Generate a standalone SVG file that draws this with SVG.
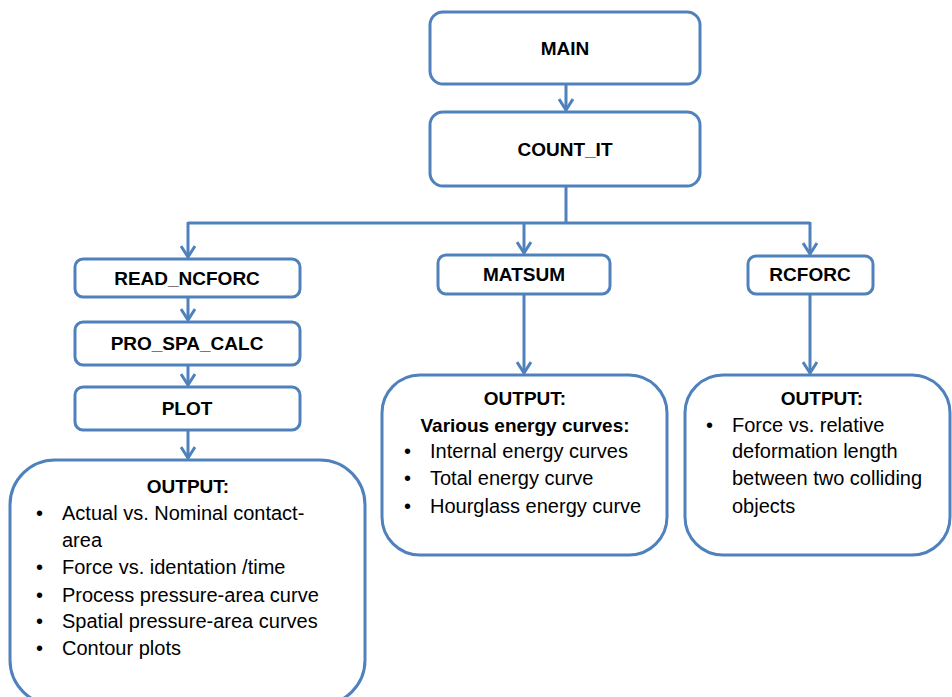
<svg xmlns="http://www.w3.org/2000/svg" width="952" height="697" viewBox="0 0 952 697">
<style>
.box{fill:#fff;stroke:#4F81BD;stroke-width:3}
.lbl{font-family:"Liberation Sans",Arial,sans-serif;font-weight:bold;font-size:19px;fill:#000;text-anchor:middle}
.txt{font-family:"Liberation Sans",Arial,sans-serif;font-size:20px;fill:#000}
.con{fill:none;stroke:#4F81BD;stroke-width:3}
.arw{marker-end:url(#arr)}
</style>
<defs>
<marker id="arr" markerUnits="userSpaceOnUse" markerWidth="16" markerHeight="16" refX="13" refY="8" orient="auto" viewBox="0 0 16 16">
<path d="M2,1 L13,8 L2,15" fill="none" stroke="#4F81BD" stroke-width="3"/>
</marker>
</defs>
<g id="connectors">
<path class="con arw" d="M566,84 V110"/>
<path class="con" d="M566,186 V223"/>
<path class="con" d="M188,223 H810"/>
<path class="con arw" d="M188,222 V257"/>
<path class="con arw" d="M524,222 V253"/>
<path class="con arw" d="M810,222 V254"/>
<path class="con arw" d="M188,297 V320"/>
<path class="con arw" d="M188,365 V385"/>
<path class="con arw" d="M188,430 V458"/>
<path class="con arw" d="M524,294 V373"/>
<path class="con arw" d="M810,294 V373"/>
</g>
<g id="main"><rect class="box" x="430" y="12" width="270" height="72" rx="13"/><text class="lbl" x="565" y="55">MAIN</text></g>
<g id="count_it"><rect class="box" x="430" y="112" width="270" height="74" rx="13"/><text class="lbl" x="565" y="156">COUNT_IT</text></g>
<g id="read_ncforc"><rect class="box" x="75" y="259" width="225" height="38" rx="8"/><text class="lbl" x="187" y="285">READ_NCFORC</text></g>
<g id="pro_spa_calc"><rect class="box" x="75" y="322" width="225" height="43" rx="8"/><text class="lbl" x="187" y="350">PRO_SPA_CALC</text></g>
<g id="plot"><rect class="box" x="75" y="387" width="225" height="43" rx="8"/><text class="lbl" x="187" y="415">PLOT</text></g>
<g id="matsum"><rect class="box" x="438" y="255" width="172" height="39" rx="8"/><text class="lbl" x="524" y="281">MATSUM</text></g>
<g id="rcforc"><rect class="box" x="748" y="256" width="125" height="38" rx="8"/><text class="lbl" x="810" y="281">RCFORC</text></g>
<g id="output_left"><rect class="box" x="10" y="460" width="355" height="245" rx="45"/>
<text class="lbl" x="188" y="493">OUTPUT:</text>
<g class="txt">
<text x="36" y="520">•</text><text x="62" y="520">Actual vs. Nominal contact-</text>
<text x="62" y="547">area</text>
<text x="36" y="574">•</text><text x="62" y="574">Force vs. identation /time</text>
<text x="36" y="602">•</text><text x="62" y="602">Process pressure-area curve</text>
<text x="36" y="628">•</text><text x="62" y="628">Spatial pressure-area curves</text>
<text x="36" y="655">•</text><text x="62" y="655">Contour plots</text>
</g></g>
<g id="output_mid"><rect class="box" x="382" y="375" width="285" height="180" rx="38"/>
<text class="lbl" x="525" y="405">OUTPUT:</text>
<text class="lbl" x="525" y="432">Various energy curves:</text>
<g class="txt">
<text x="404" y="458">•</text><text x="430" y="458">Internal energy curves</text>
<text x="404" y="485">•</text><text x="430" y="485">Total energy curve</text>
<text x="404" y="513">•</text><text x="430" y="513">Hourglass energy curve</text>
</g></g>
<g id="output_right"><rect class="box" x="685" y="375" width="265" height="180" rx="38"/>
<text class="lbl" x="822" y="405">OUTPUT:</text>
<g class="txt">
<text x="706" y="432">•</text><text x="732" y="432">Force vs. relative</text>
<text x="732" y="458">deformation length</text>
<text x="732" y="485">between two colliding</text>
<text x="732" y="513">objects</text>
</g></g>
</svg>
